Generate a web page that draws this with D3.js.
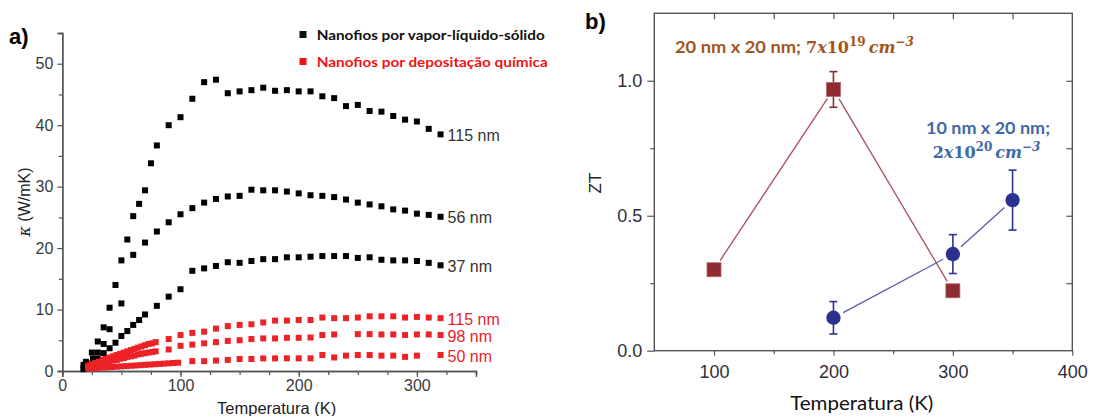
<!DOCTYPE html>
<html><head><meta charset="utf-8">
<script src="https://cdn.jsdelivr.net/npm/d3@7"></script>
<style>body{margin:0;background:#fff}svg{display:block}</style>
</head><body>
<svg id="chart" width="1094" height="416"></svg>
<script>
// ---- Panel a: thermal conductivity of Si nanowires vs temperature ----
const vls115T = [18,20,25,30,35,40,45,50,55,60,65,70,75,80,90,100,110,120,130,140,150,160,170,180,190,200,210,220,230,240,250,260,270,280,290,300,310,320];
const vls115K = [1.0,1.5,3.0,4.8,7.1,10.3,14.0,18.0,21.4,25.2,27.2,29.4,33.8,36.7,40.0,41.3,44.3,47.0,47.4,45.2,45.5,45.7,46.1,45.6,45.7,45.5,45.5,44.7,44.4,43.1,43.3,42.3,42.2,41.5,40.9,40.6,39.4,38.5];

const vls56T = [18,22,26,30,35,40,50,60,70,80,90,100,110,120,130,140,150,160,170,180,190,200,210,220,230,240,250,260,270,280,290,300,310,320];
const vls56K = [0.6,1.2,2.0,3.0,4.4,6.8,11.0,18.9,20.9,22.7,24.2,25.5,26.5,27.4,28.0,28.4,28.5,29.5,29.4,29.4,29.2,28.9,28.6,28.5,28.3,27.9,27.4,27.1,26.8,26.3,26.1,25.6,25.4,25.1];

const vls37T = [18,22,26,30,35,40,45,50,55,60,65,70,80,90,100,110,120,130,140,150,160,170,180,190,200,210,220,230,240,250,260,270,280,290,300,310,320];
const vls37K = [0.3,0.7,1.3,2.0,2.9,3.7,4.6,5.7,6.5,7.5,8.3,9.2,10.6,12.1,13.3,16.3,16.7,17.1,17.7,17.6,17.9,18.2,18.2,18.5,18.5,18.6,18.7,18.7,18.7,18.4,18.5,18.1,18.0,18.0,17.9,17.6,17.2];

const cvd115T = [22,25,28,31,34,37,40,43,46,49,52,55,58,61,64,67,70,73,76,79,90,100,110,120,130,140,150,160,170,180,190,200,210,220,230,240,250,260,270,280,290,300,310,320];
const cvd115K = [0.9,1.1,1.3,1.5,1.8,2.0,2.2,2.4,2.6,2.8,3.0,3.2,3.4,3.6,3.8,4.0,4.2,4.4,4.5,4.7,5.2,5.85,6.2,6.4,6.9,7.3,7.5,7.6,7.9,8.2,8.2,8.3,8.3,8.7,8.6,8.6,8.7,8.9,8.9,8.9,8.7,8.8,8.7,8.6];

const cvd98T = [22,25,28,31,34,37,40,43,46,49,52,55,58,61,64,67,70,73,76,79,90,100,110,120,130,140,150,160,170,180,190,200,210,220,230,250,260,270,280,290,300,310,320];
const cvd98K = [0.7,0.8,1.0,1.1,1.3,1.4,1.6,1.7,1.8,2.0,2.1,2.3,2.4,2.5,2.7,2.8,2.9,3.0,3.1,3.2,3.5,4.1,4.3,4.5,4.7,4.9,5.0,5.2,5.3,5.3,5.4,5.4,5.45,5.85,5.95,6.0,6.0,5.95,5.95,5.85,5.95,5.95,5.85];

const cvd50T = [22,26,30,34,38,42,46,50,54,58,62,66,70,74,78,82,86,90,94,98,110,120,130,140,150,160,170,180,190,200,210,220,230,240,250,260,270,280,290,300,320];
const cvd50K = [0.4,0.45,0.5,0.55,0.6,0.65,0.7,0.75,0.8,0.85,0.9,0.95,1.0,1.05,1.1,1.15,1.2,1.25,1.3,1.35,1.6,1.6,1.7,1.8,1.95,1.95,2.05,2.05,2.06,2.06,2.06,2.6,2.2,2.5,2.6,2.6,2.5,2.5,2.3,2.5,2.6];

const seriesA = [
  {T: vls115T, K: vls115K, label: "115 nm", color: "#000000", text: "#333333"},
  {T: vls56T,  K: vls56K,  label: "56 nm",  color: "#000000", text: "#333333"},
  {T: vls37T,  K: vls37K,  label: "37 nm",  color: "#000000", text: "#333333"},
  {T: cvd115T, K: cvd115K, label: "115 nm", color: "#ec2227", text: "#ec2227"},
  {T: cvd98T,  K: cvd98K,  label: "98 nm",  color: "#ec2227", text: "#ec2227"},
  {T: cvd50T,  K: cvd50K,  label: "50 nm",  color: "#ec2227", text: "#ec2227"}
];
const legendA = ["Nanofios por vapor-líquido-sólido", "Nanofios por depositação química"];
const legendColors = ["#111111", "#f01414"];

const ticksAx = [0, 100, 200, 300];
const ticksAy = [0, 10, 20, 30, 40, 50];

// ---- Panel b: ZT vs temperature ----
const zt20T = [100, 200, 300];
const zt20 = [0.30, 0.968, 0.222];
const zt20Err = [0, 0.066, 0];
const zt10T = [200, 300, 350];
const zt10 = [0.122, 0.358, 0.558];
const zt10Err = [0.06, 0.072, 0.111];
const ticksBx = [100, 200, 300, 400];
const ticksBy = [0, 0.5, 1.0];

const svg = d3.select("#chart");
const ARIAL = "'Liberation Sans', Arial, sans-serif";
const CAL = "Lato, 'Open Sans', sans-serif";
const MATH = "'DejaVu Serif', 'Liberation Serif', serif";

// ================= Panel a =================
const xA = d3.scaleLinear().domain([0, 350]).range([62.3, 476]);
const yA = d3.scaleLinear().domain([0, 55]).range([371, 33]);
const gA = svg.append("g");

function styleAxis(g, color, fs, font, textColor) {
  g.selectAll("path.domain").attr("stroke", color).attr("stroke-width", 1.4);
  g.selectAll(".tick line").attr("stroke", color).attr("stroke-width", 1.2);
  g.selectAll(".tick text").attr("font-size", fs).attr("font-family", font).attr("fill", textColor);
}

// minor ticks
gA.append("g").attr("transform", `translate(0,${yA(0)})`)
  .call(d3.axisBottom(xA).tickValues(d3.range(0, 351, 25)).tickSize(4).tickFormat(""))
  .call(g => styleAxis(g, "#555", 16, ARIAL, "#333"));
gA.append("g").attr("transform", `translate(${xA(0)},0)`)
  .call(d3.axisLeft(yA).tickValues(d3.range(5, 56, 10)).tickSize(3.5).tickFormat(""))
  .call(g => styleAxis(g, "#555", 16, ARIAL, "#333"));
// major ticks
gA.append("g").attr("transform", `translate(0,${yA(0)})`)
  .call(d3.axisBottom(xA).tickValues(ticksAx).tickSize(6).tickPadding(3))
  .call(g => styleAxis(g, "#555", 16, ARIAL, "#3a3a3a"));
gA.append("g").attr("transform", `translate(${xA(0)},0)`)
  .call(d3.axisLeft(yA).tickValues(ticksAy).tickSize(5).tickPadding(4))
  .call(g => styleAxis(g, "#555", 16, ARIAL, "#3a3a3a"));

// data squares
const sq = 6;
seriesA.forEach(s => {
  const pts = s.T.map((t, i) => [t, s.K[i]]);
  gA.append("g").selectAll("rect").data(pts).join("rect")
    .attr("x", d => xA(d[0]) - sq / 2).attr("y", d => yA(d[1]) - sq / 2)
    .attr("width", sq).attr("height", sq).attr("fill", s.color);
  const last = pts[pts.length - 1];
  gA.append("text").attr("x", xA(last[0]) + 7).attr("y", yA(last[1]) + 1)
    .attr("dominant-baseline", "central")
    .attr("font-family", ARIAL).attr("font-size", 16).attr("fill", s.text)
    .text(s.label);
});

// legend
legendA.forEach((txt, i) => {
  const y = 34.5 + i * 27;
  gA.append("rect").attr("x", 299.5).attr("y", y - 3.5).attr("width", 7).attr("height", 7).attr("fill", legendColors[i]);
  gA.append("text").attr("x", 316.7).attr("y", y).attr("dominant-baseline", "central")
    .attr("font-family", CAL).attr("font-weight", 700).attr("font-size", 14)
    .attr("fill", legendColors[i]).attr("textLength", i === 0 ? 228 : 231).attr("lengthAdjust", "spacingAndGlyphs")
    .text(txt);
});

// axis titles
gA.append("text").attr("x", 276.7).attr("y", 413.5).attr("text-anchor", "middle")
  .attr("font-family", ARIAL).attr("font-size", 16.5).attr("fill", "#222").text("Temperatura (K)");
const yTitleA = gA.append("text").attr("transform", "translate(30,202) rotate(-90)").attr("text-anchor", "middle")
  .attr("font-family", ARIAL).attr("font-size", 16).attr("fill", "#222");
yTitleA.append("tspan").attr("font-style", "italic").attr("font-family", MATH).text("κ");
yTitleA.append("tspan").text(" (W/mK)");

svg.append("text").attr("x", 9).attr("y", 44).attr("font-family", ARIAL).attr("font-weight", 700)
  .attr("font-size", 22).attr("fill", "#000").text("a)");

// ================= Panel b =================
const xB = d3.scaleLinear().domain([50, 400]).range([654.3, 1072.3]);
const yB = d3.scaleLinear().domain([0, 1.25]).range([350.7, 13.3]);
const gB = svg.append("g");

// frame
gB.append("rect").attr("x", xB(50)).attr("y", yB(1.25)).attr("width", xB(400) - xB(50)).attr("height", yB(0) - yB(1.25))
  .attr("fill", "none").attr("stroke", "#555").attr("stroke-width", 1.4);

// bottom axis
gB.append("g").attr("transform", `translate(0,${yB(0)})`)
  .call(d3.axisBottom(xB).tickValues([150, 250, 350]).tickSize(3.5).tickFormat(""))
  .call(g => styleAxis(g, "#555", 18, ARIAL, "#333"));
gB.append("g").attr("transform", `translate(0,${yB(0)})`)
  .call(d3.axisBottom(xB).tickValues(ticksBx).tickSize(5).tickPadding(10))
  .call(g => styleAxis(g, "#555", 18, ARIAL, "#2e2e3a"));
// top ticks (inward)
gB.append("g").attr("transform", `translate(0,${yB(1.25)})`)
  .call(d3.axisBottom(xB).tickValues(d3.range(100, 351, 50)).tickSize(6).tickFormat(""))
  .call(g => styleAxis(g, "#555", 18, ARIAL, "#333"));
// left axis
gB.append("g").attr("transform", `translate(${xB(50)},0)`)
  .call(d3.axisLeft(yB).tickValues([0.25, 0.75]).tickSize(4).tickFormat(""))
  .call(g => styleAxis(g, "#555", 18, ARIAL, "#333"));
gB.append("g").attr("transform", `translate(${xB(50)},0)`)
  .call(d3.axisLeft(yB).tickValues(ticksBy).tickSize(7).tickPadding(5).tickFormat(d3.format(".1f")))
  .call(g => styleAxis(g, "#555", 18, ARIAL, "#2e2e3a"));
// right ticks (inward)
gB.append("g").attr("transform", `translate(${xB(400)},0)`)
  .call(d3.axisRight(yB).tickValues([0.25, 0.5, 0.75, 1.0]).tickSize(-6).tickFormat(""))
  .call(g => styleAxis(g, "#555", 18, ARIAL, "#333"));
gB.selectAll("path.domain").attr("stroke", "none");

// connecting lines with gaps at markers
function gappedLines(T, V, gap, color) {
  for (let i = 0; i < T.length - 1; i++) {
    const x1 = xB(T[i]), y1 = yB(V[i]), x2 = xB(T[i + 1]), y2 = yB(V[i + 1]);
    const L = Math.hypot(x2 - x1, y2 - y1), ux = (x2 - x1) / L, uy = (y2 - y1) / L;
    gB.append("line").attr("x1", x1 + ux * gap).attr("y1", y1 + uy * gap)
      .attr("x2", x2 - ux * gap).attr("y2", y2 - uy * gap)
      .attr("stroke", color).attr("stroke-width", 1.3);
  }
}
function errorBars(T, V, E, color) {
  T.forEach((t, i) => {
    if (!E[i]) return;
    const x = xB(t), y1 = yB(V[i] + E[i]), y2 = yB(V[i] - E[i]);
    gB.append("line").attr("x1", x).attr("x2", x).attr("y1", y1).attr("y2", y2).attr("stroke", color).attr("stroke-width", 1.6);
    [y1, y2].forEach(y => gB.append("line").attr("x1", x - 4).attr("x2", x + 4).attr("y1", y).attr("y2", y)
      .attr("stroke", color).attr("stroke-width", 1.6));
  });
}

gappedLines(zt20T, zt20, 11, "#a65358");
gappedLines(zt10T, zt10, 11, "#5a5cb0");
errorBars(zt20T, zt20, zt20Err, "#8f2b31");
errorBars(zt10T, zt10, zt10Err, "#2c3190");

const sqB = 14;
gB.selectAll("rect.m20").data(zt20T.map((t, i) => [t, zt20[i]])).join("rect").attr("class", "m20")
  .attr("x", d => xB(d[0]) - sqB / 2).attr("y", d => yB(d[1]) - sqB / 2)
  .attr("width", sqB).attr("height", sqB).attr("fill", "#8f2b31").attr("stroke", "#b4676b").attr("stroke-width", 0.8);
gB.selectAll("circle.m10").data(zt10T.map((t, i) => [t, zt10[i]])).join("circle").attr("class", "m10")
  .attr("cx", d => xB(d[0])).attr("cy", d => yB(d[1])).attr("r", 7.2).attr("fill", "#2b3190");

// annotations: carrier concentration written as a formula (upright digits, italic symbols)
const brown = "#a3541f", steel = "#3f6aa3";
gB.append("text").attr("x", 675).attr("y", 52.5).attr("font-family", CAL).attr("font-weight", 700)
  .attr("font-size", 17).attr("fill", brown).attr("textLength", 126).attr("lengthAdjust", "spacingAndGlyphs")
  .text("20 nm x 20 nm;");
function mathText(x, y, lead, exp1, exp2, color, anchor) {
  const t = gB.append("text").attr("x", x).attr("y", y).attr("font-family", MATH).attr("font-weight", 700)
    .attr("font-size", 16).attr("fill", color).attr("text-anchor", anchor);
  t.append("tspan").text(lead);
  t.append("tspan").attr("font-style", "italic").text("x");
  t.append("tspan").text("10");
  t.append("tspan").attr("font-size", 12).attr("dy", -7).text(exp1);
  t.append("tspan").attr("dy", 7).attr("dx", 3).attr("font-style", "italic").text("cm");
  t.append("tspan").attr("font-size", 12).attr("dy", -7).attr("font-style", "italic").text(exp2);
  return t;
}
mathText(806, 52.5, "7", "19", "−3", brown, "start");

gB.append("text").attr("x", 988).attr("y", 134).attr("text-anchor", "middle").attr("font-family", CAL)
  .attr("font-weight", 700).attr("font-size", 17).attr("fill", steel).attr("textLength", 124).attr("lengthAdjust", "spacingAndGlyphs")
  .text("10 nm x 20 nm;");
mathText(986.5, 158, "2", "20", "−3", steel, "middle");

// axis titles
gB.append("text").attr("x", 861.7).attr("y", 410).attr("text-anchor", "middle").attr("font-family", CAL)
  .attr("font-size", 20).attr("fill", "#111").attr("textLength", 143).attr("lengthAdjust", "spacingAndGlyphs")
  .text("Temperatura (K)");
gB.append("text").attr("transform", "translate(601,183) rotate(-90)").attr("text-anchor", "middle")
  .attr("font-family", ARIAL).attr("font-size", 17).attr("fill", "#222").text("ZT");

svg.append("text").attr("x", 585).attr("y", 29).attr("font-family", ARIAL).attr("font-weight", 700)
  .attr("font-size", 22).attr("fill", "#000").text("b)");
</script>
</body></html>
